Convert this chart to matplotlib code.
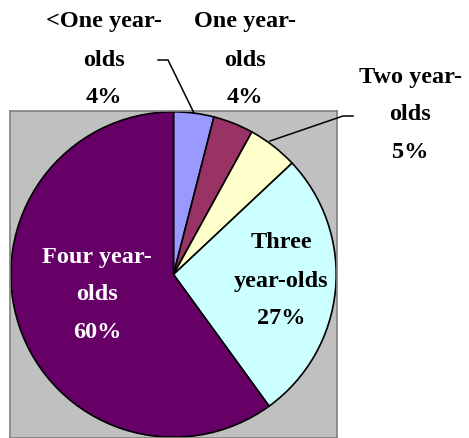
import matplotlib.pyplot as plt
import matplotlib as mpl

mpl.rcParams['font.family'] = ['Liberation Serif', 'DejaVu Serif']
mpl.rcParams['font.weight'] = 'bold'

# age groups, clockwise from 12 o'clock
groups = ['<One year-olds', 'One year-olds', 'Two year-olds', 'Three year-olds', 'Four year-olds']
shares = [4, 4, 5, 27, 60]
colors = ['#9999FF', '#993366', '#FFFFCC', '#CCFFFF', '#660066']

# label lines as they are broken on the chart
label_lines = [
    ['<One year-', 'olds'],
    ['One year-', 'olds'],
    ['Two year-', 'olds'],
    ['Three', 'year-olds'],
    ['Four year-', 'olds'],
]

W, H = 469, 438
fig = plt.figure(figsize=(W / 100, H / 100), dpi=100)


def px(x, y):
    # pixel position (from top-left) -> figure fraction
    return x / W, 1 - y / H


ax = fig.add_axes([10 / W, 0, 327 / W, 327 / H])
ax.set_facecolor('#C0C0C0')
for s in ax.spines.values():
    s.set_color('#808080')
    s.set_linewidth(1.2)
ax.set_xticks([])
ax.set_yticks([])

wedges, _ = ax.pie(shares, colors=colors, startangle=90, counterclock=False,
                   radius=0.995, frame=True,
                   wedgeprops=dict(edgecolor='black', linewidth=1.2))
ax.set_xlim(-1, 1)
ax.set_ylim(-1, 1)
ax.set_aspect('auto')

# label block centres (x, first-line y) in pixels
label_pos = [(104, 22), (245, 22), (410, 77), (281, 243), (97, 257)]
text_colors = ['black', 'black', 'black', 'black', 'white']
for lines, share, (lx, ly), tc in zip(label_lines, shares, label_pos, text_colors):
    for i, line in enumerate(lines + ['%d%%' % share]):
        fig.text(*px(lx, ly + 38 * i), line, ha='center', va='center',
                 fontsize=17.5, fontweight='bold', color=tc)

# leader lines for the two small outside labels
fig.add_artist(plt.Line2D([158 / W, 168 / W, 194 / W],
                          [1 - 60 / H, 1 - 60 / H, 1 - 113 / H],
                          color='black', linewidth=1.1))
fig.add_artist(plt.Line2D([353 / W, 343 / W, 270 / W],
                          [1 - 116 / H, 1 - 116 / H, 1 - 141 / H],
                          color='black', linewidth=1.1))

fig.savefig('out.png', dpi=100, facecolor='white')
